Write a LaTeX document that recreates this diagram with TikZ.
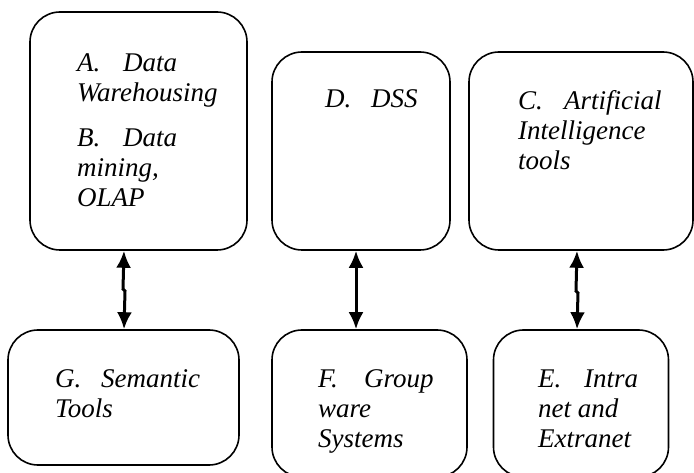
\documentclass[tikz,border=0pt]{standalone}
\usepackage{fontspec}
\setmainfont{Liberation Serif}
\usetikzlibrary{arrows.meta}
\tikzset{
  box/.style={draw,line width=1.6pt,rounded corners=30pt,inner sep=0pt},
  txt/.style={inner sep=0pt,anchor=base west,align=left,font=\fontsize{27}{30}\selectfont\itshape},
  link/.style={line width=3pt,{Latex[length=17pt,width=15pt]}-{Latex[length=17pt,width=15pt]}}
}
\newcommand{\itm}[1]{\makebox[46pt][l]{#1}}

\begin{document}
\begin{tikzpicture}[x=1pt,y=-1pt]
\useasboundingbox (0,0) rectangle (694,473);
\node[box,minimum width=217pt,minimum height=238pt] (a) at (138.5,131) {};
\node[box,minimum width=178pt,minimum height=198pt] (d) at (361,151) {};
\node[box,minimum width=224pt,minimum height=198pt] (c) at (581,151) {};
\node[box,minimum width=231pt,minimum height=135pt] (g) at (123.5,397.5) {};
\node[box,minimum width=195pt,minimum height=147pt] (f) at (369.5,403.5) {};
\node[box,minimum width=175pt,minimum height=147pt] (e) at (581,403.5) {};

% anchor is the baseline of the last line
\node[txt] (ta) at (77,102) {\itm{A.}Data\\Warehousing};
\node[txt] (tb) at (77,207) {\itm{B.}Data\\mining,\\OLAP};
\node[txt] (td) at (325,108) {\itm{D.}DSS};
\node[txt] (tc) at (518,170) {\itm{C.}Artificial\\Intelligence\\tools};
\node[txt] (tg) at (55,417) {\itm{G.}Semantic\\Tools};
\node[txt] (tf) at (318,447) {\itm{F.}Group\\ware\\Systems};
\node[txt] (te) at (538,447) {\itm{E.}Intra\\net and\\Extranet};

\coordinate (ag) at (124,0);
\coordinate (df) at (356,0);
\coordinate (ce) at (577,0);
\draw[link] (a.south -| ag) -- (123,289) -- (125,291) -- (g.north -| ag);
\draw[link] (d.south -| df) -- (f.north -| df);
\draw[link] (c.south -| ce) -- (576,291) -- (578,293) -- (e.north -| ce);
\end{tikzpicture}
\end{document}
